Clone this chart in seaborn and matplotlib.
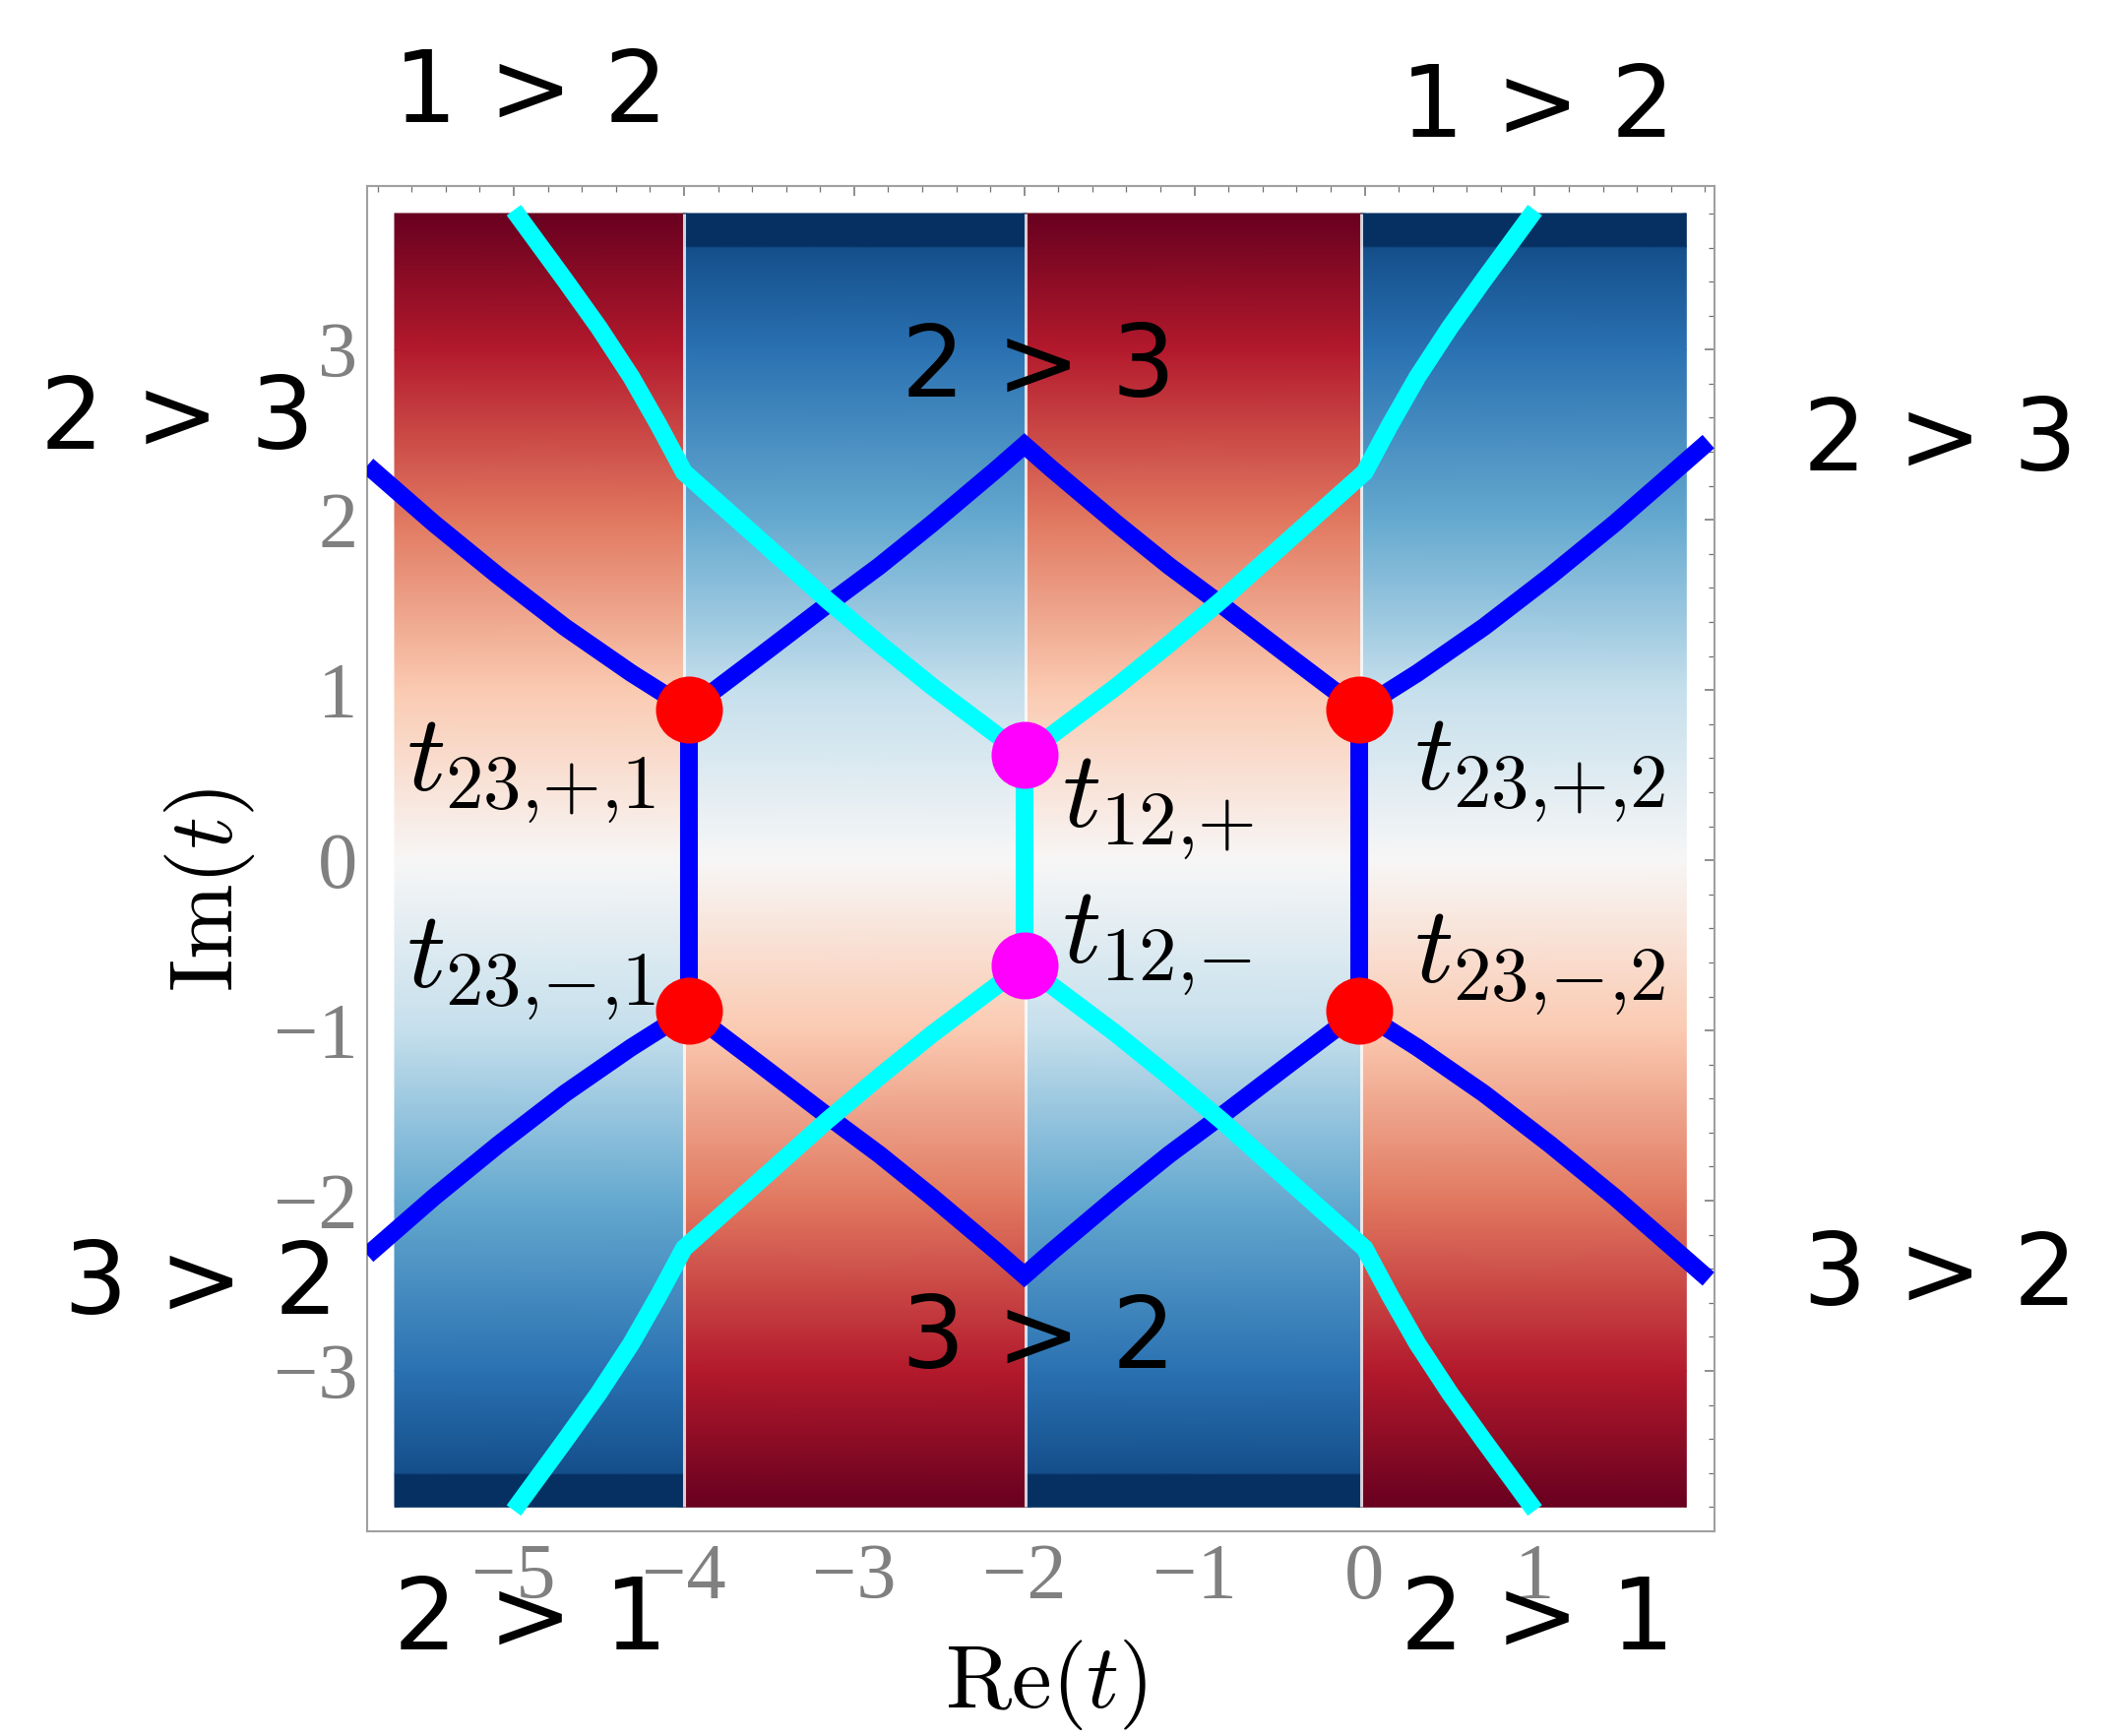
"""Stokes / anti-Stokes lines over the dominance field in the complex t plane."""
import matplotlib

matplotlib.use("Agg")
import matplotlib.pyplot as plt
import numpy as np
import seaborn as sns
from matplotlib.ticker import MultipleLocator

W, H, DPI = 2154, 1764, 100

# background field: vertical stripes, each one shaded by a vertical profile
STRIPE_EDGES = [-5.70, -4.00, -1.99, -0.02, 1.89]
STRIPE_KIND = ["red_top", "blue_top", "red_top", "blue_top"]
RED_TOP_Y = [-3.80, -3.61, -3.60, -3.0, -2.0, -1.0, 0.0, 1.0, 2.0, 3.0, 3.80]
RED_TOP_V = [-1.0, -1.0, -0.89, -0.75, -0.51, -0.24, 0.0, 0.26, 0.53, 0.79, 1.0]
BLUE_TOP_Y = [-3.80, -3.0, -2.0, -1.0, 0.0, 1.0, 2.0, 3.0, 3.60, 3.61, 3.80]
BLUE_TOP_V = [1.0, 0.79, 0.53, 0.26, 0.0, -0.24, -0.51, -0.75, -0.89, -1.0, -1.0]

# anti-Stokes lines (blue)
BLUE_UPPER_X = [-5.86, -5.47, -5.09, -4.70, -4.31, -3.97, -3.54, -3.16, -2.85, -2.54, -2.16,
                -2.00, -1.84, -1.46, -1.15, -0.84, -0.46, -0.03, 0.31, 0.70, 1.09, 1.47,
                1.86, 2.02]
BLUE_UPPER_Y = [2.32, 1.98, 1.67, 1.37, 1.10, 0.885, 1.21, 1.50, 1.73, 1.98, 2.30,
                2.44, 2.30, 1.98, 1.73, 1.50, 1.21, 0.885, 1.10, 1.37, 1.67, 1.98,
                2.32, 2.46]
BLUE_LOWER_X = [-5.86, -5.47, -5.09, -4.70, -4.31, -3.97, -3.54, -3.16, -2.85, -2.54, -2.16,
                -2.00, -1.84, -1.46, -1.15, -0.84, -0.46, -0.03, 0.31, 0.70, 1.09, 1.47,
                1.86, 2.02]
BLUE_LOWER_Y = [-2.32, -1.98, -1.67, -1.37, -1.10, -0.885, -1.21, -1.50, -1.73, -1.98, -2.30,
                -2.44, -2.30, -1.98, -1.73, -1.50, -1.21, -0.885, -1.10, -1.37, -1.67, -1.98,
                -2.32, -2.46]
BLUE_CUT_X = [-3.97, -0.03]
BLUE_CUT_Y = [0.885, -0.885]

# Stokes lines (cyan)
CYAN_UPPER_X = [-5.00, -4.70, -4.50, -4.31, -4.15, -4.00, -3.54, -3.16, -2.85, -2.54, -2.16,
                -2.00, -1.84, -1.46, -1.15, -0.84, -0.46, 0.00, 0.15, 0.31, 0.50, 0.70, 1.00]
CYAN_UPPER_Y = [3.82, 3.41, 3.13, 2.84, 2.56, 2.28, 1.87, 1.53, 1.27, 1.02, 0.735,
                0.62, 0.735, 1.02, 1.27, 1.53, 1.87, 2.28, 2.56, 2.84, 3.13, 3.41, 3.82]
CYAN_LOWER_X = [-5.00, -4.70, -4.50, -4.31, -4.15, -4.00, -3.54, -3.16, -2.85, -2.54, -2.16,
                -2.00, -1.84, -1.46, -1.15, -0.84, -0.46, 0.00, 0.15, 0.31, 0.50, 0.70, 1.00]
CYAN_LOWER_Y = [-3.82, -3.41, -3.13, -2.84, -2.56, -2.28, -1.87, -1.53, -1.27, -1.02, -0.735,
                -0.62, -0.735, -1.02, -1.27, -1.53, -1.87, -2.28, -2.56, -2.84, -3.13, -3.41,
                -3.82]
CYAN_CUT_X = [-2.00]
CYAN_CUT_Y = [0.62, -0.62]

# turning points
T23_X = [-3.97, -0.03, -3.97, -0.03]
T23_Y = [0.885, 0.885, -0.885, -0.885]
T12_X = [-2.00, -2.00]
T12_Y = [0.62, -0.62]
POINT_LABELS = [r"$t_{23{,}{+}{,}1}$", r"$t_{23{,}{-}{,}1}$", r"$t_{12{,}{+}}$",
                r"$t_{12{,}{-}}$", r"$t_{23{,}{+}{,}2}$", r"$t_{23{,}{-}{,}2}$"]

sns.set_theme(style="white")
plt.rcParams["font.family"] = ["DejaVu Sans"]
plt.rcParams["mathtext.fontset"] = "cm"
plt.rcParams["axes.unicode_minus"] = True


def fx(px):
    return px / W


def fy(py):
    return 1 - py / H


fig = plt.figure(figsize=(W / DPI, H / DPI), dpi=DPI)
ax = fig.add_axes([fx(373), fy(1556.4), (1741.7 - 373) / W, (1556.4 - 189.3) / H])

# stripes of the field
profiles = {"red_top": (RED_TOP_Y, RED_TOP_V), "blue_top": (BLUE_TOP_Y, BLUE_TOP_V)}
for x0, x1, kind in zip(STRIPE_EDGES[:-1], STRIPE_EDGES[1:], STRIPE_KIND):
    ys, vs = profiles[kind]
    X, Y = np.meshgrid([x0, x1], ys)
    C = np.repeat(np.asarray(vs)[:, None], 2, axis=1)
    ax.pcolormesh(X, Y, C, cmap="RdBu_r", vmin=-1, vmax=1, shading="gouraud", zorder=0)
ax.vlines(STRIPE_EDGES[1:-1], RED_TOP_Y[0], RED_TOP_Y[-1], color="white", lw=2.2,
          alpha=0.8, zorder=1)

line_kw = dict(lw=13, solid_capstyle="butt", solid_joinstyle="miter", legend=False,
               sort=False, estimator=None, ax=ax)
for xs, ys in [(BLUE_UPPER_X, BLUE_UPPER_Y), (BLUE_LOWER_X, BLUE_LOWER_Y)]:
    sns.lineplot(x=xs, y=ys, color="#0000ff", zorder=3, **line_kw)
for x in BLUE_CUT_X:
    sns.lineplot(x=[x, x], y=BLUE_CUT_Y, color="#0000ff", zorder=3, **line_kw)
for xs, ys in [(CYAN_UPPER_X, CYAN_UPPER_Y), (CYAN_LOWER_X, CYAN_LOWER_Y)]:
    sns.lineplot(x=xs, y=ys, color="#00ffff", zorder=4, **line_kw)
for x in CYAN_CUT_X:
    sns.lineplot(x=[x, x], y=CYAN_CUT_Y, color="#00ffff", zorder=4, **line_kw)

sns.scatterplot(x=T23_X, y=T23_Y, s=2400, color="#ff0000", linewidth=0, ax=ax, zorder=6)
sns.scatterplot(x=T12_X, y=T12_Y, s=2400, color="#ff00ff", linewidth=0, ax=ax, zorder=6)

# point labels
label_pos = [(-5.63, 0.41), (-5.63, -0.745), (-1.78, 0.197), (-1.78, -0.603),
             (0.29, 0.418), (0.29, -0.72)]
for (x, y), s in zip(label_pos, POINT_LABELS):
    ax.text(x, y, s, fontsize=79, color="black", ha="left", va="baseline", zorder=7)

# dominance labels
big = dict(fontsize=73, color="black", ha="center", va="baseline", family="DejaVu Sans")
ax.text(-1.917, 2.727, "2 > 3", zorder=7, **big)
ax.text(-1.917, -2.98, "3 > 2", zorder=7, **big)
for x, y, s in [(539, 124, "1 > 2"), (1562, 139, "1 > 2"), (180, 456, "2 > 3"),
                (1971, 478, "2 > 3"), (204, 1335, "3 > 2"), (1971, 1326, "3 > 2"),
                (539, 1676, "2 > 1"), (1562, 1676, "2 > 1")]:
    fig.text(fx(x), fy(y), s, **big)

# frame, ticks, axis labels
ax.set_xlim(-5.862, 2.054)
ax.set_ylim(-3.945, 3.96)
ax.set_xticks(range(-5, 2))
ax.set_yticks(range(-3, 4))
ax.xaxis.set_minor_locator(MultipleLocator(0.2))
ax.yaxis.set_minor_locator(MultipleLocator(0.2))
ax.tick_params(which="both", direction="in", top=True, right=True, color="#707070")
ax.tick_params(which="major", length=7.2, width=1.1, labelcolor="#808080")
ax.tick_params(which="minor", length=4.3, width=0.9)
ax.tick_params(axis="x", which="major", pad=8)
ax.tick_params(axis="y", which="major", pad=7)
for lab in ax.get_xticklabels() + ax.get_yticklabels():
    lab.set_family("Liberation Serif")
    lab.set_fontsize(58)
for sp in ax.spines.values():
    sp.set_color("#a0a0a0")
    sp.set_linewidth(1.5)
ax.grid(False)

fig.text(fx(1063), fy(1712), r"$\mathrm{Re}(t)$", fontsize=66, color="black",
         ha="center", va="center")
fig.text(fx(213), fy(905), r"$\mathrm{Im}(t)$", fontsize=66, color="black",
         ha="center", va="center", rotation=90)

fig.savefig("out.png", dpi=DPI, facecolor="white")
